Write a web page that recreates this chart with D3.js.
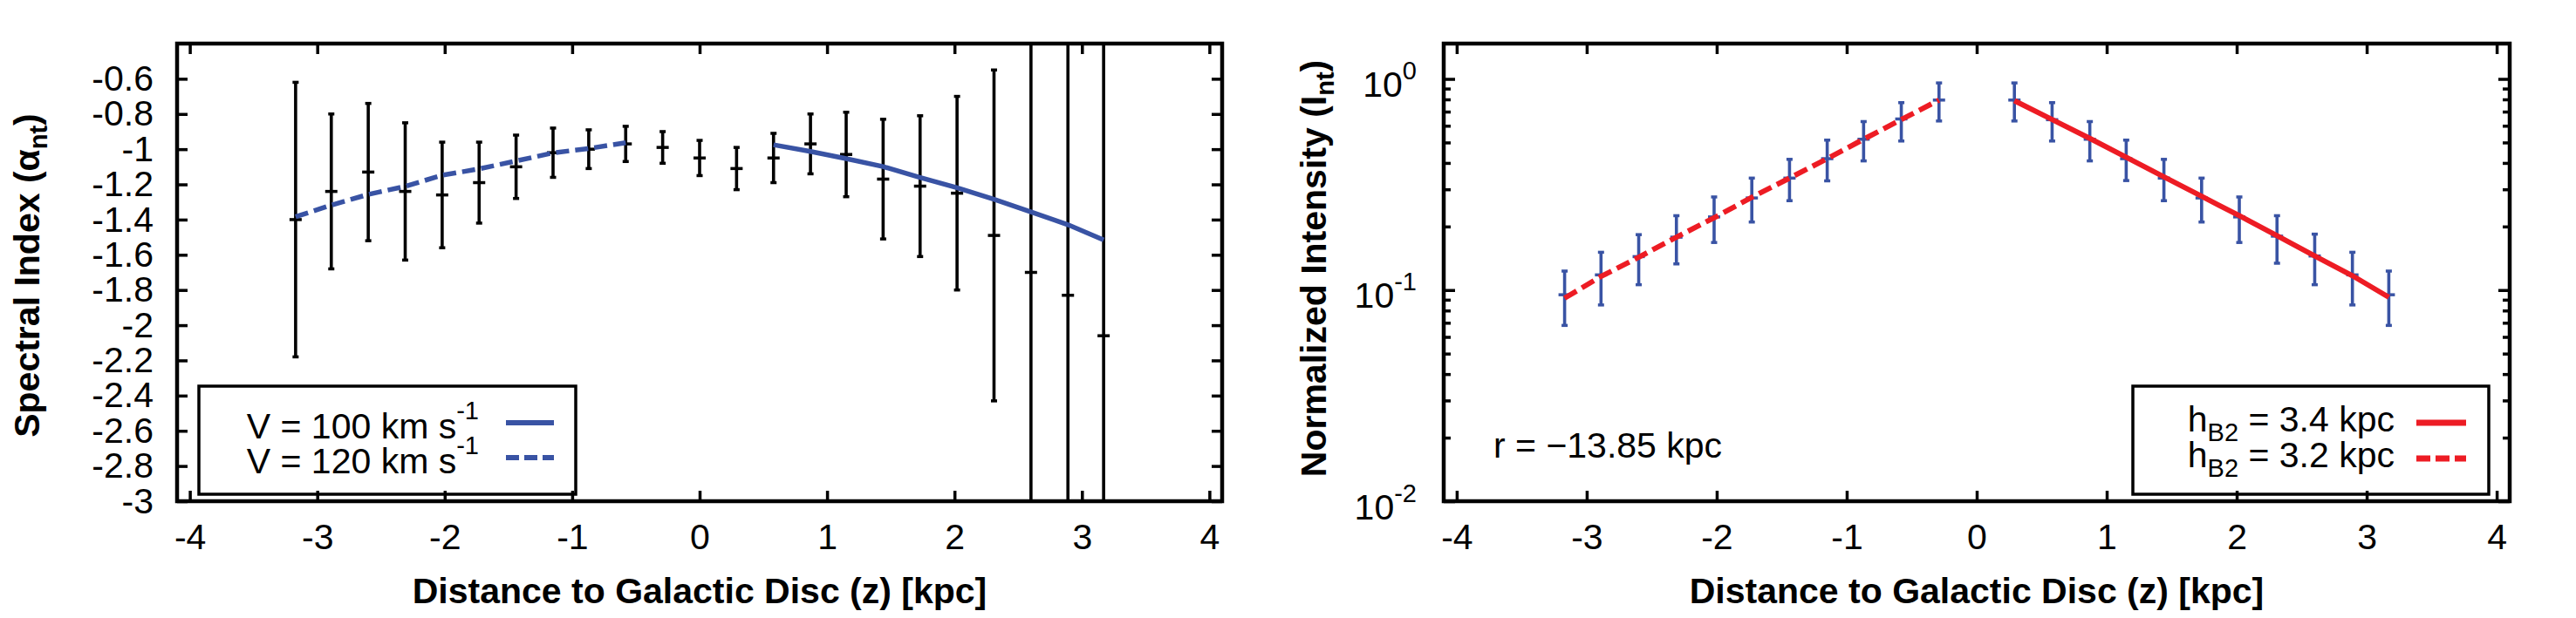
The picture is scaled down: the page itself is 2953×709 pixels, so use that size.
<!DOCTYPE html>
<html>
<head>
<meta charset="utf-8">
<script src="https://d3js.org/d3.v7.min.js"></script>
<style>
body { margin: 0; background: #fff; }
text { font-family: "Liberation Sans", Arial, Helvetica, sans-serif; fill: #000; }
.tick text { font-size: 41px; }
.tick line { stroke: #000; stroke-width: 3.5px; }
.title { font-size: 41px; font-weight: bold; }
.label { font-size: 41px; }
</style>
</head>
<body>
<script>
// left panel: spectral index vs z
const zAlpha = [-3.17, -2.89, -2.60, -2.31, -2.02, -1.73, -1.44, -1.15, -0.87, -0.58, -0.29, 0,
    0.29, 0.58, 0.87, 1.15, 1.44, 1.73, 2.02, 2.31, 2.60, 2.89, 3.17]
const alpha = [-1.40, -1.24, -1.13, -1.24, -1.26, -1.19, -1.10, -1.02, -1.00, -0.97, -0.99, -1.05,
    -1.11, -1.05, -0.97, -1.03, -1.17, -1.21, -1.25, -1.49, -1.70, -1.83, -2.06]
const alphaHi = [-0.62, -0.80, -0.74, -0.85, -0.96, -0.96, -0.92, -0.88, -0.89, -0.87, -0.90, -0.95,
    -0.99, -0.91, -0.80, -0.79, -0.83, -0.81, -0.70, -0.55, -0.10, 0.10, 0.30]
const alphaLo = [-2.18, -1.68, -1.52, -1.63, -1.56, -1.42, -1.28, -1.16, -1.11, -1.07, -1.08, -1.15,
    -1.23, -1.19, -1.14, -1.27, -1.51, -1.61, -1.80, -2.43, -3.30, -3.80, -4.40]

const zV100 = [0.58, 0.87, 1.15, 1.44, 1.73, 2.02, 2.31, 2.60, 2.89, 3.17]
const fitV100 = [-0.975, -1.013, -1.054, -1.099, -1.161, -1.219, -1.285, -1.356, -1.429, -1.516]
const zV120 = [-3.17, -2.89, -2.60, -2.31, -2.02, -1.73, -1.44, -1.15, -0.87, -0.58]
const fitV120 = [-1.384, -1.318, -1.257, -1.211, -1.148, -1.112, -1.067, -1.021, -0.996, -0.963]

// right panel: normalized intensity vs z
const zInt = [-3.17, -2.89, -2.60, -2.31, -2.02, -1.73, -1.44, -1.15, -0.87, -0.58, -0.29,
    0.29, 0.58, 0.87, 1.15, 1.44, 1.73, 2.02, 2.31, 2.60, 2.89, 3.17]
const inten = [0.095, 0.118, 0.144, 0.178, 0.222, 0.273, 0.339, 0.419, 0.518, 0.646, 0.794,
    0.794, 0.641, 0.518, 0.419, 0.339, 0.273, 0.222, 0.180, 0.145, 0.118, 0.095]
const intenHi = [0.123, 0.151, 0.183, 0.225, 0.276, 0.339, 0.416, 0.513, 0.628, 0.772, 0.957,
    0.957, 0.772, 0.628, 0.513, 0.416, 0.339, 0.276, 0.225, 0.184, 0.151, 0.123]
const intenLo = [0.068, 0.085, 0.106, 0.133, 0.168, 0.210, 0.265, 0.329, 0.409, 0.508, 0.632,
    0.632, 0.508, 0.409, 0.330, 0.265, 0.210, 0.168, 0.134, 0.106, 0.085, 0.068]

const zH34 = [0.29, 0.58, 0.87, 1.15, 1.44, 1.73, 2.02, 2.31, 2.60, 2.89, 3.17]
const fitH34 = [0.789, 0.642, 0.523, 0.426, 0.344, 0.278, 0.225, 0.181, 0.145, 0.117, 0.0925]
const zH32 = [-3.17, -2.89, -2.60, -2.31, -2.02, -1.73, -1.44, -1.15, -0.87, -0.58, -0.29]
const fitH32 = [0.0916, 0.116, 0.143, 0.178, 0.220, 0.275, 0.339, 0.419, 0.518, 0.642, 0.794]

// ticks
const xTicks = [-4, -3, -2, -1, 0, 1, 2, 3, 4]
const yTicksL = [-0.6, -0.8, -1, -1.2, -1.4, -1.6, -1.8, -2, -2.2, -2.4, -2.6, -2.8, -3]
const yTicksR = [1, 0.1, 0.01]
const yExpR = ['0', '-1', '-2']
const yMinorR = [0.02, 0.03, 0.04, 0.05, 0.06, 0.07, 0.08, 0.09, 0.2, 0.3, 0.4, 0.5, 0.6, 0.7, 0.8, 0.9]

const blue = '#3953a4', red = '#ed1c24'
const yTop = 50, yBottom = 575

const svg = d3.select('body').append('svg')
    .attr('width', 2953)
    .attr('height', 709)
svg.append('rect').attr('width', 2953).attr('height', 709).attr('fill', '#fff')

const xL = d3.scaleLinear().domain([-4.1, 4.1]).range([203, 1401])
const yL = d3.scaleLinear().domain([-3, -0.4]).range([yBottom, yTop])
const xR = d3.scaleLinear().domain([-4.1, 4.1]).range([1655, 2877])
const yR = d3.scaleLog().domain([0.01, 1.47]).range([yBottom, yTop])

const noDomain = g => g.select('.domain').remove()

function frame(x, y, id) {
    const [x0, x1] = x.range()
    svg.append('clipPath').attr('id', id)
        .append('rect')
        .attr('x', x0).attr('y', yTop)
        .attr('width', x1 - x0).attr('height', yBottom - yTop)
    svg.append('g')
        .attr('transform', 'translate(0,' + yBottom + ')')
        .call(d3.axisBottom(x).tickValues(xTicks).tickSize(-12).tickPadding(26).tickFormat(d => String(d)))
        .call(noDomain)
    svg.append('g')
        .attr('transform', 'translate(0,' + yTop + ')')
        .call(d3.axisTop(x).tickValues(xTicks).tickSize(-12).tickFormat(''))
        .call(noDomain)
    svg.append('text')
        .attr('class', 'title')
        .attr('text-anchor', 'middle')
        .attr('x', (x0 + x1) / 2)
        .attr('y', 692)
        .text('Distance to Galactic Disc (z) [kpc]')
}

function border(x) {
    const [x0, x1] = x.range()
    svg.append('rect')
        .attr('x', x0).attr('y', yTop)
        .attr('width', x1 - x0).attr('height', yBottom - yTop)
        .attr('fill', 'none')
        .attr('stroke', '#000')
        .attr('stroke-width', 4.5)
}

function errorBars(g, x, y, zs, vs, los, his, color) {
    const pts = zs.map((z, i) => ({ z: z, v: vs[i], lo: los[i], hi: his[i] }))
    g.selectAll(null).data(pts).enter().append('line')
        .attr('x1', d => x(d.z)).attr('x2', d => x(d.z))
        .attr('y1', d => y(d.lo)).attr('y2', d => y(d.hi))
        .attr('stroke', color).attr('stroke-width', 3.6)
    ;['lo', 'hi'].forEach(k => {
        g.selectAll(null).data(pts).enter().append('line')
            .attr('x1', d => x(d.z) - 3.5).attr('x2', d => x(d.z) + 3.5)
            .attr('y1', d => y(d[k])).attr('y2', d => y(d[k]))
            .attr('stroke', color).attr('stroke-width', 3.5)
    })
    g.selectAll(null).data(pts).enter().append('line')
        .attr('x1', d => x(d.z) - 7).attr('x2', d => x(d.z) + 7)
        .attr('y1', d => y(d.v)).attr('y2', d => y(d.v))
        .attr('stroke', color).attr('stroke-width', 3.5)
}

// ---------- left panel
frame(xL, yL, 'clipL')
svg.append('g')
    .attr('transform', 'translate(' + xL.range()[0] + ',0)')
    .call(d3.axisLeft(yL).tickValues(yTicksL).tickSize(-12).tickPadding(27).tickFormat(d => String(d)))
    .call(noDomain)
svg.append('g')
    .attr('transform', 'translate(' + xL.range()[1] + ',0)')
    .call(d3.axisRight(yL).tickValues(yTicksL).tickSize(-12).tickFormat(''))
    .call(noDomain)

const gL = svg.append('g').attr('clip-path', 'url(#clipL)')
errorBars(gL, xL, yL, zAlpha, alpha, alphaLo, alphaHi, '#000')

const lineL = d3.line().x(d => xL(d[0])).y(d => yL(d[1]))
gL.append('path')
    .datum(d3.zip(zV100, fitV100))
    .attr('d', lineL)
    .attr('fill', 'none').attr('stroke', blue).attr('stroke-width', 5.5)
gL.append('path')
    .datum(d3.zip(zV120, fitV120))
    .attr('d', lineL)
    .attr('fill', 'none').attr('stroke', blue).attr('stroke-width', 5.5)
    .attr('stroke-dasharray', '15,7')
border(xL)

svg.append('text')
    .attr('class', 'title')
    .attr('text-anchor', 'middle')
    .attr('transform', 'translate(45,316) rotate(-90)')
    .call(t => {
        t.append('tspan').text('Spectral Index (α')
        t.append('tspan').attr('font-size', '29px').attr('dy', 9).text('nt')
        t.append('tspan').attr('dy', -9).text(')')
    })

// legend left
svg.append('rect')
    .attr('x', 228).attr('y', 443).attr('width', 432).attr('height', 124)
    .attr('fill', 'none').attr('stroke', '#000').attr('stroke-width', 3.5)
const legL = [
    { v: 'V = 100 km s', y: 503, dash: null },
    { v: 'V = 120 km s', y: 543, dash: '15,6' }
]
legL.forEach((o, i) => {
    svg.append('text')
        .attr('class', 'label')
        .attr('text-anchor', 'end')
        .attr('x', 549).attr('y', o.y)
        .call(t => {
            t.append('tspan').text(o.v)
            t.append('tspan').attr('font-size', '29px').attr('dy', -22).text('-1')
        })
    svg.append('line')
        .attr('x1', 580).attr('x2', 635)
        .attr('y1', o.y - 18).attr('y2', o.y - 18)
        .attr('stroke', blue).attr('stroke-width', 6)
        .attr('stroke-dasharray', o.dash)
})

// ---------- right panel
frame(xR, yR, 'clipR')
svg.append('g')
    .attr('transform', 'translate(' + xR.range()[0] + ',0)')
    .call(d3.axisLeft(yR).tickValues(yTicksR).tickSize(-13).tickPadding(31).tickFormat(() => '10'))
    .call(noDomain)
    .call(g => g.selectAll('.tick text')
        .attr('dy', 20)
        .append('tspan')
        .attr('font-size', '29px')
        .attr('dy', -20)
        .text((d, i) => yExpR[i]))
svg.append('g')
    .attr('transform', 'translate(' + xR.range()[0] + ',0)')
    .call(d3.axisLeft(yR).tickValues(yMinorR).tickSize(-8).tickFormat(''))
    .call(noDomain)
svg.append('g')
    .attr('transform', 'translate(' + xR.range()[1] + ',0)')
    .call(d3.axisRight(yR).tickValues(yTicksR).tickSize(-13).tickFormat(''))
    .call(noDomain)
svg.append('g')
    .attr('transform', 'translate(' + xR.range()[1] + ',0)')
    .call(d3.axisRight(yR).tickValues(yMinorR).tickSize(-8).tickFormat(''))
    .call(noDomain)

const gR = svg.append('g').attr('clip-path', 'url(#clipR)')
errorBars(gR, xR, yR, zInt, inten, intenLo, intenHi, blue)

const lineR = d3.line().x(d => xR(d[0])).y(d => yR(d[1]))
gR.append('path')
    .datum(d3.zip(zH34, fitH34))
    .attr('d', lineR)
    .attr('fill', 'none').attr('stroke', red).attr('stroke-width', 6)
gR.append('path')
    .datum(d3.zip(zH32, fitH32))
    .attr('d', lineR)
    .attr('fill', 'none').attr('stroke', red).attr('stroke-width', 6)
    .attr('stroke-dasharray', '16,7')
border(xR)

svg.append('text')
    .attr('class', 'title')
    .attr('text-anchor', 'middle')
    .attr('transform', 'translate(1520,308) rotate(-90)')
    .call(t => {
        t.append('tspan').text('Normalized Intensity (I')
        t.append('tspan').attr('font-size', '29px').attr('dy', 9).text('nt')
        t.append('tspan').attr('dy', -9).text(')')
    })

svg.append('text')
    .attr('class', 'label')
    .attr('x', 1712).attr('y', 525)
    .text('r = \u221213.85 kpc')

// legend right
svg.append('rect')
    .attr('x', 2445).attr('y', 443).attr('width', 408).attr('height', 124)
    .attr('fill', 'none').attr('stroke', '#000').attr('stroke-width', 3.5)
const legR = [
    { v: ' = 3.4 kpc', y: 495, dash: null },
    { v: ' = 3.2 kpc', y: 536, dash: '16,6' }
]
legR.forEach(o => {
    svg.append('text')
        .attr('class', 'label')
        .attr('text-anchor', 'end')
        .attr('x', 2745).attr('y', o.y)
        .call(t => {
            t.append('tspan').text('h')
            t.append('tspan').attr('font-size', '29px').attr('dy', 11).text('B2')
            t.append('tspan').attr('dy', -11).text(o.v)
        })
    svg.append('line')
        .attr('x1', 2770).attr('x2', 2827)
        .attr('y1', o.y - 10).attr('y2', o.y - 10)
        .attr('stroke', red).attr('stroke-width', 7)
        .attr('stroke-dasharray', o.dash)
})
</script>
</body>
</html>
